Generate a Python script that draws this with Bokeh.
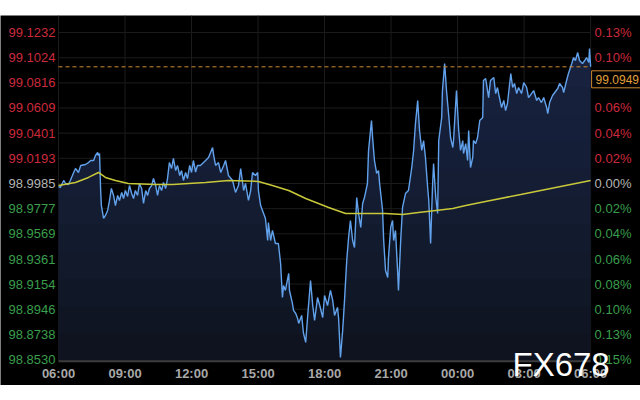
from bokeh.plotting import figure
from bokeh.models import Label, Range1d, Spacer
from bokeh.layouts import column
from bokeh.core.properties import value
from bokeh.embed import file_html
from bokeh.resources import INLINE

# ---------------- data ----------------
base_price = 98.9985
last_price = 99.0949

left_ticks = [99.1232, 99.1024, 99.0816, 99.0609, 99.0401, 99.0193, 98.9985,
              98.9777, 98.9569, 98.9361, 98.9154, 98.8946, 98.8738, 98.8530]
right_labels = ["0.13%", "0.10%", "0.08%", "0.06%", "0.04%", "0.02%", "0.00%",
                "0.02%", "0.04%", "0.06%", "0.08%", "0.10%", "0.13%", "0.15%"]

x_ticks = [0, 180, 360, 540, 720, 900, 1080, 1260, 1440]   # minutes since 06:00
x_labels = ["06:00", "09:00", "12:00", "15:00", "18:00", "21:00", "00:00", "03:00", "06:00"]

times = [
    0, 5, 14, 19, 27, 32, 41, 46, 54, 60,
    73, 81, 87, 95, 100, 106, 108, 111, 114, 116,
    122, 127, 133, 138, 143, 149, 154, 160, 165, 171,
    176, 181, 187, 192, 198, 203, 208, 214, 219, 225,
    230, 236, 241, 246, 252, 257, 263, 268, 273, 279,
    284, 290, 295, 300, 306, 311, 317, 322, 328, 333,
    338, 344, 349, 355, 360, 365, 371, 376, 384, 398,
    406, 417, 420, 425, 433, 439, 447, 452, 460, 471,
    479, 487, 493, 501, 506, 514, 520, 525, 533, 539,
    541, 547, 552, 555, 560, 566, 568, 574, 579, 587,
    595, 601, 606, 609, 614, 623, 625, 633, 636, 642,
    647, 650, 658, 663, 669, 674, 682, 688, 693, 701,
    707, 715, 720, 728, 736, 742, 747, 755, 758, 763,
    769, 774, 780, 785, 790, 796, 801, 807, 812, 818,
    823, 828, 836, 839, 847, 850, 855, 861, 866, 869,
    877, 880, 885, 891, 893, 899, 904, 907, 912, 918,
    920, 926, 931, 939, 947, 956, 961, 966, 972, 977,
    983, 988, 993, 999, 1002, 1007, 1012, 1015, 1021, 1026,
    1029, 1037, 1039, 1045, 1050, 1056, 1061, 1067, 1069, 1077,
    1083, 1088, 1094, 1096, 1102, 1107, 1110, 1115, 1121, 1123,
    1129, 1134, 1140, 1148, 1150, 1156, 1161, 1164, 1169, 1178,
    1183, 1188, 1191, 1199, 1205, 1210, 1215, 1224, 1229, 1234,
    1240, 1245, 1253, 1259, 1267, 1272, 1280, 1286, 1294, 1299,
    1307, 1313, 1321, 1324, 1329, 1337, 1343, 1351, 1356, 1364,
    1367, 1375, 1380, 1389, 1394, 1399, 1405, 1410, 1418, 1424,
    1429, 1435, 1437, 1440,
]
prices = [
    98.9960, 98.9952, 99.0010, 98.9985, 98.9977, 99.0010, 99.0076, 99.0109, 99.0076, 99.0134,
    99.0142, 99.0158, 99.0175, 99.0175, 99.0216, 99.0241, 99.0216, 99.0233, 98.9927, 98.9803,
    98.9696, 98.9721, 98.9762, 98.9845, 98.9944, 98.9886, 98.9803, 98.9886, 98.9845, 98.9911,
    98.9861, 98.9927, 98.9878, 98.9968, 98.9902, 98.9861, 98.9927, 98.9886, 98.9985, 98.9944,
    98.9820, 98.9927, 98.9886, 98.9944, 98.9968, 99.0026, 98.9968, 98.9886, 98.9968, 98.9927,
    98.9993, 98.9944, 99.0026, 99.0158, 99.0109, 99.0192, 99.0092, 99.0134, 99.0051, 99.0092,
    99.0010, 99.0076, 99.0026, 99.0134, 99.0076, 99.0175, 99.0080, 99.0134, 99.0134, 99.0175,
    99.0200, 99.0282, 99.0216, 99.0134, 99.0158, 99.0076, 99.0134, 99.0175, 99.0051, 99.0010,
    98.9911, 98.9968, 99.0109, 98.9927, 98.9985, 98.9845, 98.9927, 99.0076, 99.0051, 99.0076,
    98.9927, 98.9803, 98.9762, 98.9737, 98.9696, 98.9514, 98.9663, 98.9514, 98.9597, 98.9489,
    98.9489, 98.9324, 98.9043, 98.9142, 98.9101, 98.9242, 98.9101, 98.8994, 98.8936, 98.8911,
    98.8870, 98.8829, 98.8895, 98.8746, 98.8672, 98.8878, 98.9184, 98.8977, 98.8853, 98.9043,
    98.8977, 98.8878, 98.9060, 98.8977, 98.9101, 98.9019, 98.8895, 98.8961, 98.8870, 98.8548,
    98.8771, 98.9019, 98.9349, 98.9539, 98.9679, 98.9514, 98.9456, 98.9869, 98.9737, 98.9622,
    98.9820, 98.9869, 98.9985, 99.0258, 99.0505, 99.0365, 99.0175, 99.0068, 99.0092, 98.9985,
    98.9762, 98.9514, 98.9266, 98.9209, 98.9374, 98.9622, 98.9679, 98.9514, 98.9597, 98.9242,
    98.9101, 98.9514, 98.9787, 98.9902, 98.9927, 99.0117, 99.0258, 99.0481, 99.0671, 99.0423,
    99.0258, 99.0340, 99.0200, 98.9952, 98.9845, 98.9489, 98.9952, 99.0150, 98.9869, 98.9737,
    99.0340, 99.0530, 99.0753, 99.0976, 99.0753, 99.0547, 99.0365, 99.0282, 99.0340, 99.0753,
    99.0423, 99.0258, 99.0340, 99.0233, 99.0315, 99.0175, 99.0423, 99.0117, 99.0200, 99.0340,
    99.0315, 99.0365, 99.0505, 99.0530, 99.0836, 99.0852, 99.0753, 99.0695, 99.0836, 99.0861,
    99.0728, 99.0778, 99.0728, 99.0613, 99.0671, 99.0588, 99.0646, 99.0894, 99.0778, 99.0811,
    99.0728, 99.0778, 99.0728, 99.0819, 99.0778, 99.0695, 99.0728, 99.0753, 99.0671, 99.0695,
    99.0654, 99.0695, 99.0613, 99.0563, 99.0654, 99.0712, 99.0737, 99.0770, 99.0811, 99.0778,
    99.0737, 99.0836, 99.0894, 99.0976, 99.1026, 99.1001, 99.1067, 99.1001, 99.0976, 99.1001,
    99.1026, 99.0984, 99.1100, 99.0949,
]

ma_times = [0, 46, 81, 108, 127, 154, 189, 263, 309, 352, 398, 460, 541, 579, 623,
            669, 731, 777, 839, 885, 931, 974, 1021, 1067, 1102, 1142, 1169, 1251, 1332, 1440]
ma_values = [98.9968, 98.9993, 99.0035, 99.0076, 99.0035, 99.0010, 98.9985, 98.9977, 98.9977,
             98.9985, 98.9993, 99.0010, 99.0002, 98.9968, 98.9927, 98.9861, 98.9787, 98.9737,
             98.9737, 98.9737, 98.9729, 98.9745, 98.9762, 98.9778, 98.9803, 98.9828, 98.9845,
             98.9894, 98.9944, 99.0010]

# ---------------- layout / styling ----------------
RED = "#cc2a3c"
GREEN = "#3a9e4c"
GREY = "#b4b4b4"
FONT = "Liberation Sans"

plot_floor = 98.8516             # level of the time axis line
x_lo, x_hi = -157, 1575          # frame spans the whole canvas (label margins included)
y_lo, y_hi = 98.8316, 99.1373

p = figure(width=640, height=370, x_range=Range1d(x_lo, x_hi), y_range=Range1d(y_lo, y_hi),
           output_backend="svg", toolbar_location=None,
           x_axis_location=None, y_axis_location=None, min_border=0,
           background_fill_color="#000000", border_fill_color="#000000",
           outline_line_color=None)
p.xgrid.visible = False
p.ygrid.visible = False

t0, t1 = x_ticks[0], x_ticks[-1]
# grid
p.segment(x0=t0, x1=t1, y0=left_ticks, y1=left_ticks, line_color="#1c1c1c", line_width=1)
p.segment(x0=x_ticks, x1=x_ticks, y0=plot_floor, y1=y_hi, line_color="#1c1c1c", line_width=1)

# area under the price line: dark base plus stacked translucent bands -> vertical gradient
p.varea(x=times, y1=plot_floor, y2=prices, fill_color="#0c111b", fill_alpha=1.0)
n_bands = 12
for k in range(n_bands):
    level = plot_floor + (left_ticks[0] - plot_floor) * k / n_bands
    p.varea(x=times, y1=level, y2=[max(v, level) for v in prices],
            fill_color="#253a62", fill_alpha=0.075)
p.line(times, prices, line_color="#62a2ec", line_width=1.4)
p.line(ma_times, ma_values, line_color="#c8c83a", line_width=1.5)

# time axis line
p.segment(x0=t0, x1=t1, y0=plot_floor, y1=plot_floor, line_color="#3c3c3c", line_width=2)

# last-price dashed line
p.segment(x0=t0, x1=t1, y0=last_price, y1=last_price, line_color="#d08a30",
          line_dash="4 3", line_width=1)

def tick_color(v):
    if abs(v - base_price) < 1e-6:
        return GREY
    return RED if v > base_price else GREEN

colors = [tick_color(v) for v in left_ticks]
n = len(left_ticks)
p.text(x=[t0] * n, y=left_ticks, text=[f"{v:.4f}" for v in left_ticks],
       text_color=colors, text_align="right", text_baseline="middle", x_offset=-3,
       text_font=value(FONT), text_font_size="13px")
p.text(x=[t1] * n, y=left_ticks, text=right_labels,
       text_color=colors, text_align="left", text_baseline="middle", x_offset=4,
       text_font=value(FONT), text_font_size="13px")

# time labels
p.text(x=x_ticks, y=[plot_floor] * len(x_ticks), text=x_labels, text_color="#a8a8a8",
       text_align="center", text_baseline="top", y_offset=5,
       text_font=value(FONT), text_font_size="13px", text_font_style="bold")

# last-price box
p.add_layout(Label(x=t1, y=last_price, x_offset=1, y_offset=-4, text=f"{last_price:.4f}",
                   text_baseline="top", text_align="left", text_color="#e2a03c",
                   text_font=FONT, text_font_size="12px",
                   border_line_color="#d08a30", background_fill_color="#000000",
                   padding=4))

# watermark
p.add_layout(Label(x=512, y=21, x_units="screen", y_units="screen", text="FX678",
                   text_color="#ffffff", text_font=FONT, text_font_size="33px",
                   text_baseline="alphabetic"))

layout = column(Spacer(height=15, width=640), p)
open("out.html", "w").write(file_html(layout, INLINE))
